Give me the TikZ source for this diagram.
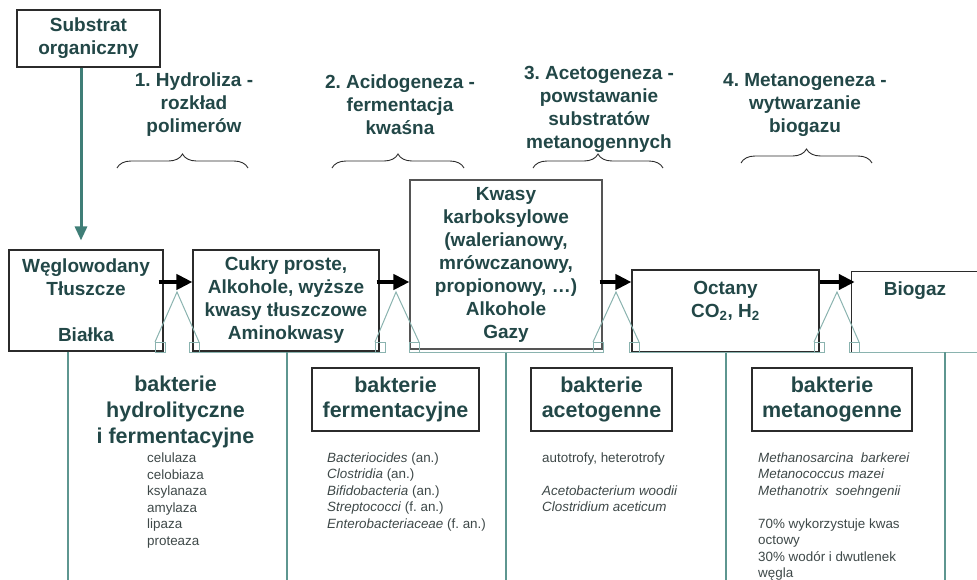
\documentclass[tikz,border=0pt]{standalone}
\usepackage{fontspec}
\setmainfont{Liberation Sans}
\usetikzlibrary{arrows.meta,decorations.pathreplacing,calc}
\definecolor{txt}{HTML}{224747}
\definecolor{small}{HTML}{3E4848}
\definecolor{tealA}{HTML}{3F7E77}
\definecolor{tealL}{HTML}{8AB3AF}
\definecolor{tealV}{HTML}{5E9690}
\definecolor{edge}{HTML}{2B2B2B}
\definecolor{edgegray}{HTML}{555555}
\frenchspacing
\begin{document}
\begin{tikzpicture}[x=1pt,y=-1pt,
  big/.style={font=\fontsize{19}{23}\selectfont\bfseries, text=txt, align=center, inner sep=0pt},
  box/.style={big, draw=edge, line width=1.1pt},
  bact/.style={font=\fontsize{21.5}{25.8}\selectfont\bfseries, text=txt, align=center, inner sep=0pt},
  bactbox/.style={bact, draw=edge, line width=1.1pt},
  lst/.style={font=\fontsize{13.4}{16.5}\selectfont, text=small, align=left, inner sep=0pt, anchor=north west},
  flow/.style={line width=4.8pt, -{Triangle[length=16pt,width=15pt]}, black},
  subarrow/.style={draw=tealA, line width=3pt, -{Triangle[length=14pt,width=12pt]}},
  brc/.style={decorate, decoration={brace, amplitude=14pt}, draw=edge, line width=0.9pt},
  tri/.style={draw=tealL, line width=1pt},
  vline/.style={draw=tealV, line width=1.3pt},
]
\useasboundingbox (0,0) rectangle (977,579);
\clip (0,0) rectangle (977,579);

% top box
\node[box, minimum width=143pt, minimum height=57pt] (sub) at (88.5,38.5) {Substrat\\organiczny};

% main boxes
\node[box, minimum width=154pt, minimum height=101pt] (b1) at (86,300.5) {Węglowodany\\Tłuszcze\\[23pt]Białka};
\node[box, minimum width=186pt, minimum height=101pt] (b2) at (286,300.5) {Cukry proste,\\Alkohole, wyższe\\kwasy tłuszczowe\\Aminokwasy};
\node[box, draw=edgegray, minimum width=192pt, minimum height=169pt] (b3) at (506,264.5) {Kwasy\\karboksylowe\\(walerianowy,\\mrówczanowy,\\propionowy, …)\\Alkohole\\Gazy};
\node[box, minimum width=187pt, minimum height=82pt] (b4) at (725.5,311) {Octany\\CO\textsubscript{2}, H\textsubscript{2}\\\mbox{}};
\node[big, minimum width=126pt, minimum height=80pt] (b5) at (915,312) {Biogaz\\\mbox{}\\\mbox{}};
\draw[draw=edge, line width=1.1pt] (b5.north west) rectangle ($(b5.south east)+(40,0)$);

% teal connector from substrate
\draw[subarrow] ($(sub.south)+(-7.5,0)$) -- ($(sub.south|-b1.north)+(-7.5,-9)$);

% triangles and squares between boxes
\foreach \a/\L/\R in {177/155/199, 396/375/419, 616/593/639, 837/814/859} {
  \draw[tri] (\L,342) -- (\a,292) -- (\R,342);
  \draw[tri] (\L,342) rectangle (\L+10,352);
  \draw[tri] (\R-10,342) rectangle (\R,352);
}
\draw[tri] (189,352) -- (385,352);
\draw[tri] (409,352) -- (603,352);
\draw[tri] (629,352) -- (824,352);
\draw[tri] (849,352) -- (990,352);

% vertical dividers
\draw[vline] ($(b1.south)+(-18,0)$) -- ($(b1.south)+(-18,240)$);
\draw[vline] ($(b2.south)+(1,0)$) -- ($(b2.south)+(1,240)$);
\draw[vline] ($(b3.south)+(0,3)$) -- ($(b3.south)+(0,240)$);
\draw[vline] ($(b4.south)+(0.5,0)$) -- ($(b4.south)+(0.5,240)$);
\draw[vline] ($(b5.south)+(30,0)$) -- ($(b5.south)+(30,240)$);

% flow arrows
\coordinate (ay) at (0,282);
\draw[flow] ($(b1.east|-ay)+(-5,0)$) -- (b2.west|-ay);
\draw[flow] ($(b2.east|-ay)+(-3,0)$) -- (b3.west|-ay);
\draw[flow] ($(b3.east|-ay)+(-3,0)$) -- (b4.west|-ay);
\draw[flow] (b4.east|-ay) -- ($(b5.west|-ay)+(3,0)$);

% braces
\draw[brc] (117,168) -- (248,168);
\draw[brc] (332,168) -- (464,168);
\draw[brc] (533,168) -- (663,168);
\draw[brc] (741,163) -- (872,163);

% phase labels
\node[big] (p1) at (194,105) {1. Hydroliza -\\rozkład\\polimerów};
\node[big] (p2) at (400,105) {2. Acidogeneza -\\fermentacja\\kwaśna};
\node[big] (p3) at (599,109) {3. Acetogeneza -\\powstawanie\\substratów\\metanogennych};
\node[big] (p4) at (805,105) {4. Metanogeneza -\\wytwarzanie\\biogazu};

% bacteria headings
\node[bact] (h1) at (175.5,412) {bakterie\\hydrolityczne\\i fermentacyjne};
\node[bactbox, minimum width=167pt, minimum height=63pt] (h2) at (395.5,399.5) {bakterie\\fermentacyjne};
\node[bactbox, minimum width=141pt, minimum height=63pt] (h3) at (601.5,399.5) {bakterie\\acetogenne};
\node[bactbox, minimum width=160pt, minimum height=63pt] (h4) at (832,399.5) {bakterie\\metanogenne};

% lists
\node[lst] (l1) at (147,453) {celulaza\\celobiaza\\ksylanaza\\amylaza\\lipaza\\proteaza};
\node[lst] (l2) at (327,452.5) {\textit{Bacteriocides} (an.)\\\textit{Clostridia} (an.)\\\textit{Bifidobacteria} (an.)\\\textit{Streptococci} (f. an.)\\\textit{Enterobacteriaceae} (f. an.)};
\node[lst] (l3) at (542,452.5) {autotrofy, heterotrofy\\[16.5pt]\textit{Acetobacterium woodii}\\\textit{Clostridium aceticum}};
\node[lst] (l4) at (758,452.5) {\textit{Methanosarcina\ \ barkerei}\\\textit{Metanococcus mazei}\\\textit{Methanotrix\ \ soehngenii}\\[16.5pt]70\% wykorzystuje kwas\\octowy\\30\% wodór i dwutlenek\\węgla};
\end{tikzpicture}
\end{document}
